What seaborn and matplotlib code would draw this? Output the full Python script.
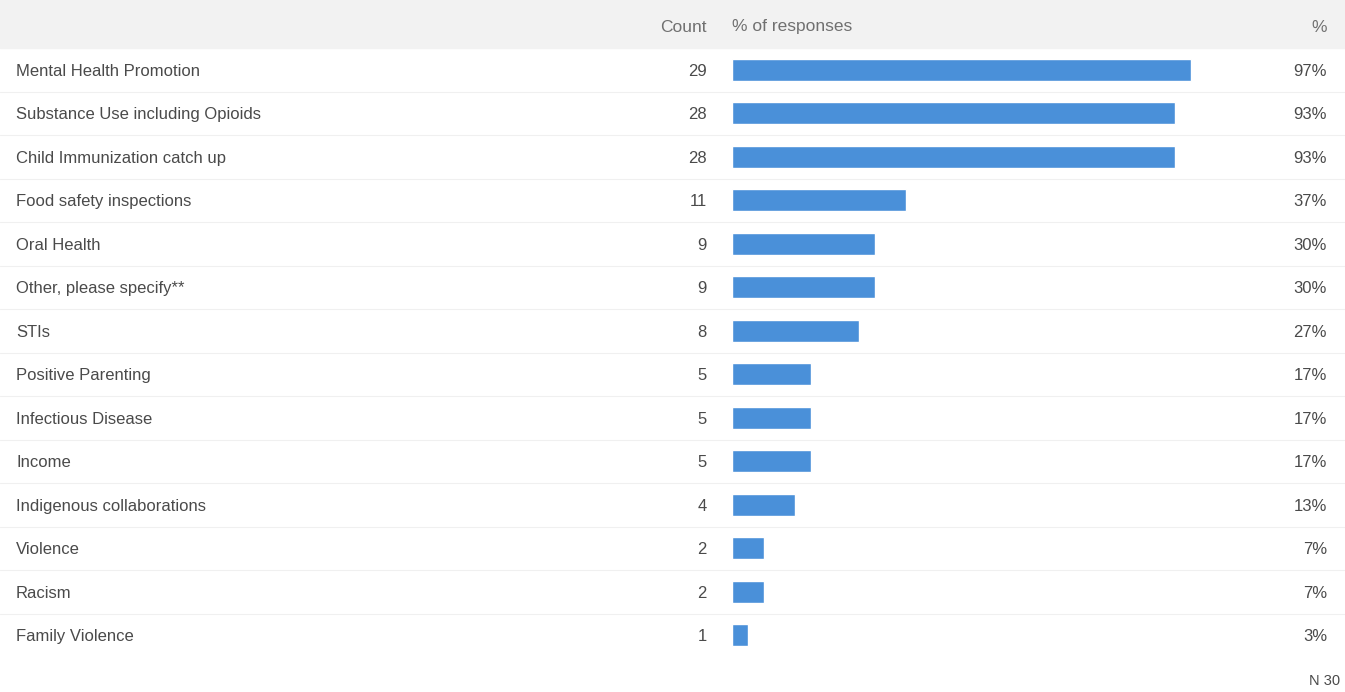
import matplotlib
matplotlib.use("Agg")
import matplotlib.pyplot as plt
import seaborn as sns
import pandas as pd
from matplotlib.transforms import blended_transform_factory, ScaledTranslation

categories = [
    "Mental Health Promotion",
    "Substance Use including Opioids",
    "Child Immunization catch up",
    "Food safety inspections",
    "Oral Health",
    "Other, please specify**",
    "STIs",
    "Positive Parenting",
    "Infectious Disease",
    "Income",
    "Indigenous collaborations",
    "Violence",
    "Racism",
    "Family Violence",
]
counts = [29, 28, 28, 11, 9, 9, 8, 5, 5, 5, 4, 2, 2, 1]
percents = [97, 93, 93, 37, 30, 30, 27, 17, 17, 17, 13, 7, 7, 3]
n_total = 30

sns.set_theme(style="white")
plt.rcParams['font.family'] = ['Liberation Sans', 'DejaVu Sans']

W, H = 1345, 692
fig = plt.figure(figsize=(W / 100, H / 100), dpi=100)
fig.patch.set_facecolor("white")

# background axes for header band and separators (pixel coords)
bg = fig.add_axes([0, 0, 1, 1])
bg.set_xlim(0, W)
bg.set_ylim(H, 0)
bg.axis("off")
bg.axhspan(0, 48, color="#f2f2f2", zorder=0)

top_px, bot_px = 48, 657
nrows = len(categories)
row_h = (bot_px - top_px) / nrows
for k in range(1, nrows):
    bg.axhline(top_px + k * row_h, xmin=0, xmax=1, color="#f0f0f0", lw=0.8, zorder=1)

# bar axes
x0, x1 = 732, 1207
ax = fig.add_axes([x0 / W, 1 - bot_px / H, (x1 - x0) / W, (bot_px - top_px) / H])
ax.patch.set_alpha(0)
df = pd.DataFrame({"cat": categories, "pct": [c / n_total * 100 for c in counts]})
sns.barplot(data=df, x="pct", y="cat", orient="h", color="#4a90d9", saturation=1,
            width=0.5, ax=ax)
ax.set_xlim(0, 100)
ax.set_ylim(nrows - 0.5, -0.5)
ax.axis("off")

tc = "#4a4a4a"
fs = 12
trans = blended_transform_factory(fig.transFigure, ax.transData) + \
    ScaledTranslation(0, -1.5 / 100, fig.dpi_scale_trans)
for i, (cat, c, p) in enumerate(zip(categories, counts, percents)):
    fig.text(16 / W, i, cat, transform=trans, ha="left", va="center", fontsize=fs, color=tc)
    fig.text(707 / W, i, str(c), transform=trans, ha="right", va="center", fontsize=fs, color=tc)
    fig.text(1327 / W, i, f"{p}%", transform=trans, ha="right", va="center", fontsize=fs, color=tc)

hy = 1 - 27 / H
hc = "#707070"
fig.text(707 / W, hy, "Count", ha="right", va="center", fontsize=12.5, color=hc)
fig.text(732 / W, hy, "% of responses", ha="left", va="center", fontsize=12.5, color=hc)
fig.text(1327 / W, hy, "%", ha="right", va="center", fontsize=12.5, color=hc)
fig.text(1340 / W, 1 - 681 / H, f"N {n_total}", ha="right", va="center", fontsize=10.5, color=tc)

fig.savefig("out.png", dpi=100)
